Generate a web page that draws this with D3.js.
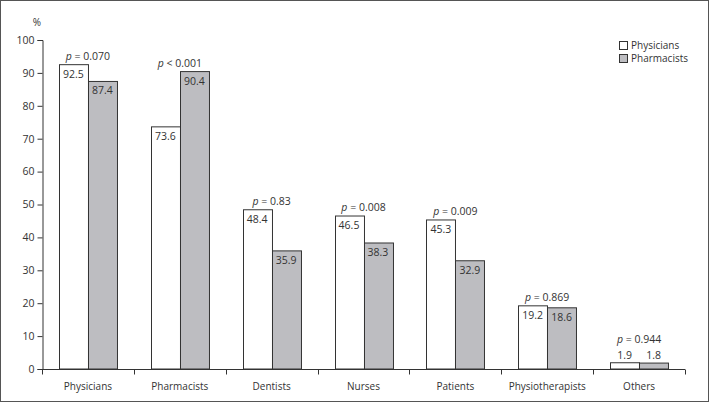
<!DOCTYPE html>
<html><head><meta charset="utf-8">
<script src="https://cdn.jsdelivr.net/npm/d3@7"></script>
<style>body{margin:0;background:#fff}text{font-family:"Open Sans",sans-serif;fill:#333}</style>
</head><body><svg id="c" width="709" height="402"></svg>
<script>
const categories = ["Physicians","Pharmacists","Dentists","Nurses","Patients","Physiotherapists","Others"];
const physicians = [92.5,73.6,48.4,46.5,45.3,19.2,1.9];
const pharmacists = [87.4,90.4,35.9,38.3,32.9,18.6,1.8];
const pLabels = ["= 0.070","< 0.001","= 0.83","= 0.008","= 0.009","= 0.869","= 0.944"];
const yTicks = [0,10,20,30,40,50,60,70,80,90,100];
const seriesNames = ["Physicians","Pharmacists"];
const colors = ["#ffffff","#bdbdc1"];
const FONT = "'Open Sans',sans-serif";
const FS = 10;

const svg = d3.select("#c");
svg.append("rect").attr("x",0.5).attr("y",0.5).attr("width",708).attr("height",401).attr("fill","none").attr("stroke","#555");

const x = d3.scaleBand().domain(categories).range([42,685]);
const y = d3.scaleLinear().domain([0,100]).range([369,40]);
const sub = d3.scaleBand().domain(seriesNames).range([0,x.bandwidth()]).paddingOuter(0.585).paddingInner(0);

const data = categories.map((c,i)=>({c,vals:[physicians[i],pharmacists[i]],p:pLabels[i]}));
const g = svg.append("g");
data.forEach(d=>{
  const gx = x(d.c);
  d.vals.forEach((v,j)=>{
    const bx = gx+sub(seriesNames[j]);
    g.append("rect").attr("x",Math.round(bx)+0.5).attr("y",y(v)).attr("width",sub.bandwidth()).attr("height",y(0)-y(v))
      .attr("fill",colors[j]).attr("stroke","#333").attr("stroke-width",1);
    const inside = (y(0)-y(v))>16;
    g.append("text").attr("x",bx+sub.bandwidth()/2).attr("y",inside? y(v)+13 : y(v)-4)
      .attr("text-anchor","middle").attr("font-size",FS+0.5).text(v.toFixed(1));
  });
  const top = Math.max(...d.vals);
  const small = (y(0)-y(top))<=16;
  const t = g.append("text").attr("x",gx+x.bandwidth()/2).attr("y", small? y(top)-20 : y(top)-5)
    .attr("text-anchor","middle").attr("font-size",FS+0.5);
  t.append("tspan").attr("font-style","italic").text("p");
  t.append("tspan").text(" "+d.p);
});

const yAxis = d3.axisLeft(y).tickValues(yTicks).tickSize(5).tickPadding(3);
const ya = svg.append("g").attr("transform","translate(42.5,0)").call(yAxis);
const xAxis = d3.axisBottom(x).tickSize(0).tickPadding(13);
const xa = svg.append("g").attr("transform","translate(0,369.5)").call(xAxis);
xa.select(".domain").remove();
xa.append("line").attr("x1",42).attr("x2",685).attr("stroke","#333");
const bounds = categories.map(c=>x(c)).concat([x.range()[1]]);
xa.selectAll(".bt").data(bounds).enter().append("line").attr("x1",d=>Math.round(d)+0.5).attr("x2",d=>Math.round(d)+0.5).attr("y1",0).attr("y2",5).attr("stroke","#333");
[ya,xa].forEach(a=>{a.selectAll("text").attr("font-size",FS+0.5).attr("font-family",FONT).attr("fill","#333");a.selectAll("line,path").attr("stroke","#333");});
xa.selectAll(".tick text").attr("font-size",FS);
svg.append("text").attr("x",37).attr("y",26).attr("text-anchor","middle").attr("font-size",FS).text("%");

const lg = svg.append("g").attr("transform","translate(619,41)");
seriesNames.forEach((s,i)=>{
  lg.append("rect").attr("x",0.5).attr("y",i*13+0.5).attr("width",8).attr("height",8).attr("fill",colors[i]).attr("stroke","#333");
  lg.append("text").attr("x",12).attr("y",i*13+8).attr("font-size",FS).text(s);
});
</script></body></html>
